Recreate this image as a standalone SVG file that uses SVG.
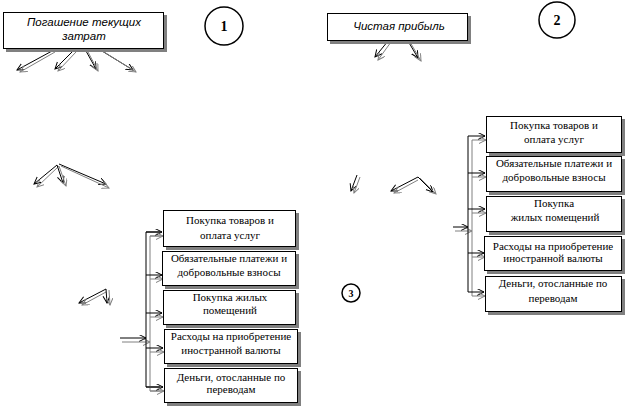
<svg xmlns="http://www.w3.org/2000/svg" width="628" height="409" viewBox="0 0 628 409">
<defs>
<style>
.box{fill:#fff;stroke:#000;stroke-width:1}
.sh{fill:#808080}
.hd{font-family:"Liberation Sans",Arial,sans-serif;font-style:italic;font-size:11.5px;text-anchor:middle;fill:#000}
.tx{font-family:"Liberation Serif","Times New Roman",serif;font-size:11px;text-anchor:middle;fill:#000}
.num{font-family:"Liberation Serif","Times New Roman",serif;font-weight:bold;text-anchor:middle;fill:#000}
.cir{fill:#fff;stroke:#000;stroke-width:1.5}
.k{stroke:#000;stroke-width:1;fill:none;marker-end:url(#ak)}
.g{stroke:#808080;stroke-width:1;fill:none;marker-end:url(#ag)}
.kl{stroke:#000;stroke-width:1;fill:none}
.gl{stroke:#808080;stroke-width:1;fill:none}
</style>
<marker id="ak" markerUnits="userSpaceOnUse" markerWidth="8" markerHeight="8" refX="7" refY="3.5" orient="auto"><path d="M0,0 L7,3.5 L0,7" fill="none" stroke="#000" stroke-width="1"/></marker>
<marker id="ag" markerUnits="userSpaceOnUse" markerWidth="8" markerHeight="8" refX="7" refY="3.5" orient="auto"><path d="M0,0 L7,3.5 L0,7" fill="none" stroke="#808080" stroke-width="1"/></marker>
</defs>
<rect width="628" height="409" fill="#fff"/>

<g id="connectors">
<!-- from header 1 -->
<line class="k" x1="52" y1="51" x2="17" y2="70"/><line class="g" x1="55" y1="52" x2="20" y2="72"/>
<line class="k" x1="73" y1="51" x2="55" y2="69"/><line class="g" x1="76" y1="52" x2="58" y2="71"/>
<line class="k" x1="86" y1="51" x2="96" y2="69"/><line class="g" x1="88" y1="52" x2="98" y2="71"/>
<line class="k" x1="102" y1="51" x2="133" y2="70"/><line class="g" x1="104" y1="52" x2="136" y2="72"/>
<!-- from header 2 -->
<line class="k" x1="388" y1="41" x2="375" y2="57"/><line class="g" x1="391" y1="42" x2="378" y2="60"/>
<line class="k" x1="408" y1="41" x2="418" y2="58"/><line class="g" x1="410" y1="42" x2="421" y2="61"/>
<!-- middle left -->
<line class="k" x1="57" y1="165" x2="34" y2="184"/><line class="g" x1="59" y1="166" x2="37" y2="187"/>
<line class="k" x1="57" y1="165" x2="63" y2="183"/><line class="g" x1="59" y1="166" x2="66" y2="186"/>
<line class="k" x1="59" y1="164" x2="106" y2="184"/><line class="g" x1="61" y1="166" x2="109" y2="188"/>
<!-- middle right -->
<line class="k" x1="357" y1="175" x2="351" y2="191"/><line class="g" x1="360" y1="177" x2="354" y2="193"/>
<line class="k" x1="418" y1="177" x2="391" y2="191"/><line class="g" x1="418" y1="180" x2="394" y2="193"/>
<line class="k" x1="418" y1="177" x2="433" y2="192"/><line class="g" x1="420" y1="178" x2="436" y2="194"/>
<!-- lower left -->
<line class="k" x1="106" y1="289" x2="79" y2="303"/><line class="g" x1="106" y1="292" x2="82" y2="305"/>
<line class="k" x1="106" y1="289" x2="107" y2="303"/><line class="g" x1="109" y1="290" x2="110" y2="305"/>

<!-- left list bus -->
<line class="k" x1="120" y1="338" x2="146" y2="338"/><line class="g" x1="122" y1="342" x2="150" y2="342"/>
<polyline class="kl" points="160,232 146,232 146,387 160,387"/>
<polyline class="gl" points="163,236 150,236 150,391 163,391"/>
<line class="k" x1="146" y1="232" x2="162" y2="232"/><line class="g" x1="150" y1="236" x2="163" y2="236"/>
<line class="k" x1="146" y1="275" x2="162" y2="275"/><line class="g" x1="150" y1="279" x2="163" y2="279"/>
<line class="k" x1="146" y1="313" x2="162" y2="313"/><line class="g" x1="150" y1="317" x2="163" y2="317"/>
<line class="k" x1="146" y1="348" x2="163" y2="348"/><line class="g" x1="150" y1="352" x2="164" y2="352"/>
<line class="k" x1="146" y1="387" x2="163" y2="387"/><line class="g" x1="150" y1="391" x2="164" y2="391"/>

<!-- right list bus -->
<line class="k" x1="453" y1="227" x2="468" y2="227"/><line class="g" x1="455" y1="231" x2="472" y2="231"/>
<polyline class="kl" points="468,136 468,292"/>
<polyline class="gl" points="472,140 472,296"/>
<line class="k" x1="468" y1="136" x2="485" y2="136"/><line class="g" x1="472" y1="140" x2="486" y2="140"/>
<line class="k" x1="468" y1="173" x2="485" y2="173"/><line class="g" x1="472" y1="177" x2="486" y2="177"/>
<line class="k" x1="468" y1="209" x2="485" y2="209"/><line class="g" x1="472" y1="213" x2="486" y2="213"/>
<line class="k" x1="468" y1="253" x2="484" y2="253"/><line class="g" x1="472" y1="257" x2="485" y2="257"/>
<line class="k" x1="468" y1="292" x2="484" y2="292"/><line class="g" x1="472" y1="296" x2="485" y2="296"/>
</g>

<g id="header1">
<rect class="sh" x="6" y="15" width="161" height="37"/>
<rect class="box" x="3.5" y="12.5" width="160" height="36"/>
<text class="hd" x="84" y="26">Погашение текущих</text>
<text class="hd" x="84" y="40">затрат</text>
</g>
<g id="header2">
<rect class="sh" x="330" y="16" width="141" height="28"/>
<rect class="box" x="327.5" y="13.5" width="140" height="27"/>
<text class="hd" x="399" y="30">Чистая прибыль</text>
</g>

<g id="circle1"><circle class="cir" cx="224" cy="26" r="19"/><text class="num" x="224" y="31" font-size="14">1</text></g>
<g id="circle2"><circle class="cir" cx="557" cy="20" r="18"/><text class="num" x="557" y="25" font-size="14">2</text></g>
<g id="circle3"><circle class="cir" cx="351" cy="293" r="9" stroke-width="1"/><text class="num" x="351" y="297" font-size="10">3</text></g>

<!-- left list -->
<g id="L1"><rect class="sh" x="166" y="213" width="133" height="37"/><rect class="box" x="163.5" y="210.5" width="132" height="36"/>
<text class="tx" x="230" y="224">Покупка товаров и</text><text class="tx" x="230" y="239">оплата услуг</text></g>
<g id="L2"><rect class="sh" x="165" y="254" width="134" height="35"/><rect class="box" x="162.5" y="251.5" width="133" height="34"/>
<text class="tx" x="229" y="262">Обязательные платежи и</text><text class="tx" x="229" y="276">добровольные взносы</text></g>
<g id="L3"><rect class="sh" x="166" y="293" width="133" height="35"/><rect class="box" x="163.5" y="290.5" width="132" height="34"/>
<text class="tx" x="230" y="301">Покупка жилых</text><text class="tx" x="230" y="314">помещений</text></g>
<g id="L4"><rect class="sh" x="167" y="332" width="134" height="35"/><rect class="box" x="164.5" y="329.5" width="133" height="34"/>
<text class="tx" x="231" y="340">Расходы на приобретение</text><text class="tx" x="231" y="354">иностранной валюты</text></g>
<g id="L5"><rect class="sh" x="167" y="371" width="134" height="35"/><rect class="box" x="164.5" y="368.5" width="133" height="34"/>
<text class="tx" x="231" y="381">Деньги, отосланные по</text><text class="tx" x="231" y="393">переводам</text></g>

<!-- right list -->
<g id="R1"><rect class="sh" x="489" y="119" width="136" height="37"/><rect class="box" x="486.5" y="116.5" width="135" height="36"/>
<text class="tx" x="554" y="129">Покупка товаров и</text><text class="tx" x="554" y="143">оплата услуг</text></g>
<g id="R2"><rect class="sh" x="489" y="159" width="136" height="36"/><rect class="box" x="486.5" y="156.5" width="135" height="35"/>
<text class="tx" x="554" y="167">Обязательные платежи и</text><text class="tx" x="554" y="181">добровольные взносы</text></g>
<g id="R3"><rect class="sh" x="489" y="199" width="136" height="36"/><rect class="box" x="486.5" y="196.5" width="135" height="35"/>
<text class="tx" x="554" y="207">Покупка</text><text class="tx" x="555" y="221">жилых помещений</text></g>
<g id="R4"><rect class="sh" x="487" y="239" width="138" height="35"/><rect class="box" x="484.5" y="236.5" width="137" height="34"/>
<text class="tx" x="553" y="250">Расходы на приобретение</text><text class="tx" x="553" y="262">иностранной валюты</text></g>
<g id="R5"><rect class="sh" x="488" y="279" width="137" height="36"/><rect class="box" x="485.5" y="276.5" width="136" height="35"/>
<text class="tx" x="553" y="287">Деньги, отосланные по</text><text class="tx" x="553" y="302">переводам</text></g>
</svg>
